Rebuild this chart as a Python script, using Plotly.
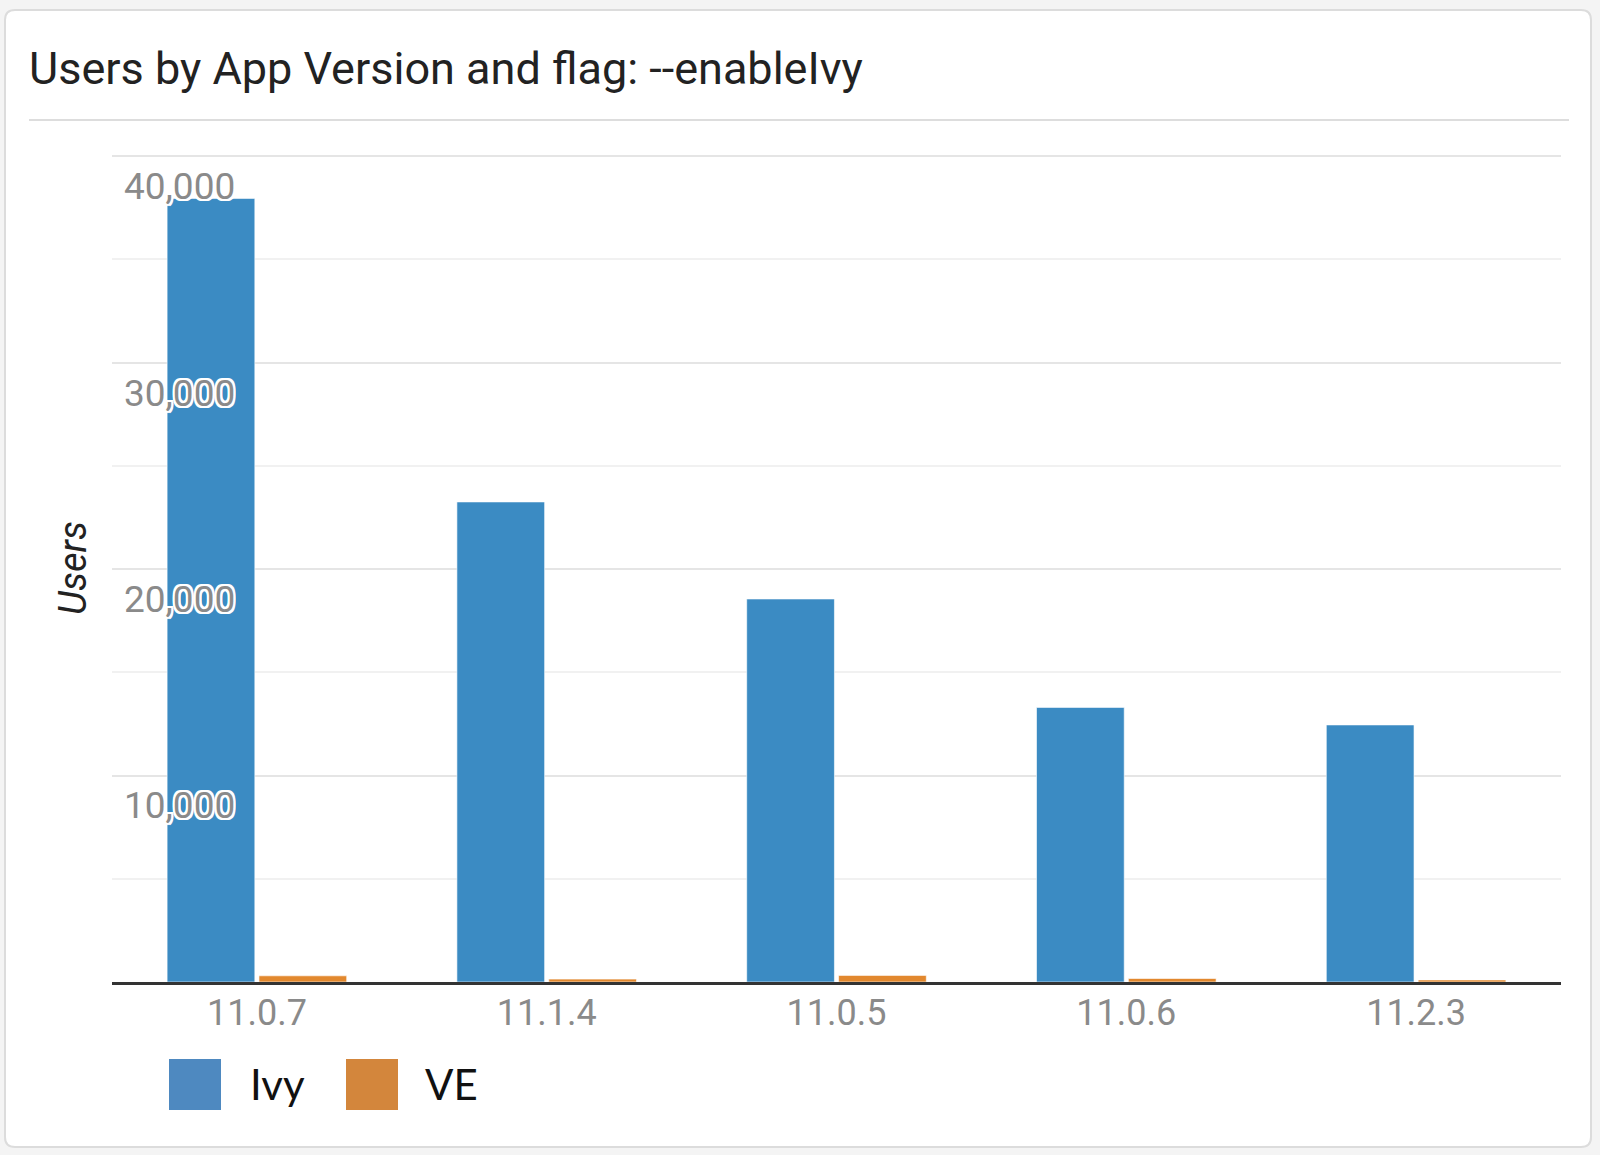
import plotly.graph_objects as go

# ---- data ----
versions = ["11.0.7", "11.1.4", "11.0.5", "11.0.6", "11.2.3"]
ivy_users = [37950, 23250, 18550, 13300, 12450]
ve_users = [300, 140, 320, 170, 100]
series_names = ["Ivy", "VE"]
bar_colors = ["#3b8bc3", "#e2882e"]
legend_colors = ["#4e89c0", "#d3863c"]
y_ticks = [10000, 20000, 30000, 40000]
y_tick_text = ["10,000", "20,000", "30,000", "40,000"]
y_max = 40100

# ---- geometry (pixels) ----
W, H = 1600, 1155
PL, PR, PT, PB = 112, 1561, 154, 982
pw, ph = PR - PL, PB - PT


def px(x):
    return (x - PL) / pw


def py(y):
    return (PB - y) / ph


fig = go.Figure()
fig.add_trace(go.Bar(x=versions, y=ivy_users, name=series_names[0],
                     marker=dict(color=bar_colors[0], line=dict(width=1, color="rgba(255,255,255,0.6)"))))
fig.add_trace(go.Bar(x=versions, y=ve_users, name=series_names[1],
                     marker=dict(color=bar_colors[1], line=dict(width=1, color="rgba(255,255,255,0.6)"))))

halo = ", ".join(f"{dx}px {dy}px 0 white" for dx, dy in
                 [(2, 0), (-2, 0), (0, 2), (0, -2), (2, 2), (-2, -2), (2, -2), (-2, 2)])

shapes = []
# card
cx0, cx1, cy0, cy1, r = 5, 1591, 10, 1147, 10
rx, ry = r / pw, r / ph
X0, X1, Y0, Y1 = px(cx0), px(cx1), py(cy1), py(cy0)
path = (f"M {X0+rx},{Y0} L {X1-rx},{Y0} Q {X1},{Y0} {X1},{Y0+ry} "
        f"L {X1},{Y1-ry} Q {X1},{Y1} {X1-rx},{Y1} L {X0+rx},{Y1} "
        f"Q {X0},{Y1} {X0},{Y1-ry} L {X0},{Y0+ry} Q {X0},{Y0} {X0+rx},{Y0} Z")
shapes.append(dict(type="path", xref="paper", yref="paper", path=path,
                   fillcolor="white", line=dict(color="#dcdcdc", width=2), layer="below"))
# title separator
shapes.append(dict(type="line", xref="paper", yref="paper", x0=px(29), x1=px(1569),
                   y0=py(120), y1=py(120), line=dict(color="#dddddd", width=2)))
# legend squares
annotations = []
leg_sq_x = [169, 346]
leg_tx_x = [248, 423]
for i, name in enumerate(series_names):
    shapes.append(dict(type="rect", xref="paper", yref="paper",
                       x0=px(leg_sq_x[i]), x1=px(leg_sq_x[i] + 52),
                       y0=py(1110), y1=py(1059),
                       fillcolor=legend_colors[i], line=dict(width=0)))
    annotations.append(dict(xref="paper", yref="paper", x=px(leg_tx_x[i]), y=py(1084),
                            xanchor="left", yanchor="middle", showarrow=False, text=name,
                            font=dict(family="Lato", size=42, color="#111111")))
# y axis title
annotations.append(dict(xref="paper", yref="paper", x=px(73), y=py(568), textangle=-90,
                        xanchor="center", yanchor="middle", showarrow=False, text="Users",
                        font=dict(family="Roboto", size=38, color="#222222", style="italic")))

fig.update_layout(
    width=W, height=H,
    margin=dict(l=PL, r=W - PR, t=PT, b=H - PB, pad=0),
    paper_bgcolor="#f4f4f4",
    plot_bgcolor="rgba(0,0,0,0)",
    showlegend=False,
    bargap=0.366, bargroupgap=0.045,
    title=dict(text="Users by App Version and flag: --enableIvy",
               x=29 / W, xanchor="left", xref="container",
               y=1 - 68 / H, yanchor="middle", yref="container",
               font=dict(family="Roboto", size=45, color="#222222")),
    shapes=shapes,
    annotations=annotations,
    xaxis=dict(range=[-0.5, len(versions) - 0.5], autorange=False,
               showline=True, linecolor="#333333", linewidth=3, showgrid=False,
               ticks="", ticklen=0, tickfont=dict(family="Roboto", size=36, color="#8a8a8a"),
               ticklabelstandoff=-3, fixedrange=True),
    yaxis=dict(range=[0, y_max], autorange=False, tickvals=y_ticks, ticktext=y_tick_text,
               ticklabelposition="inside", ticklabelshift=30, ticklabelstandoff=9,
               tickfont=dict(family="Roboto", size=37, color="#8a8a8a", shadow=halo),
               showgrid=True, gridcolor="#e5e5e5", gridwidth=2,
               minor=dict(dtick=5000, showgrid=True, gridcolor="#f1f1f1", gridwidth=2),
               zeroline=False, showline=False, ticks="", fixedrange=True),
)

fig.write_html("out.html", config={"displayModeBar": False},
               post_script="document.body.style.margin='0';")
